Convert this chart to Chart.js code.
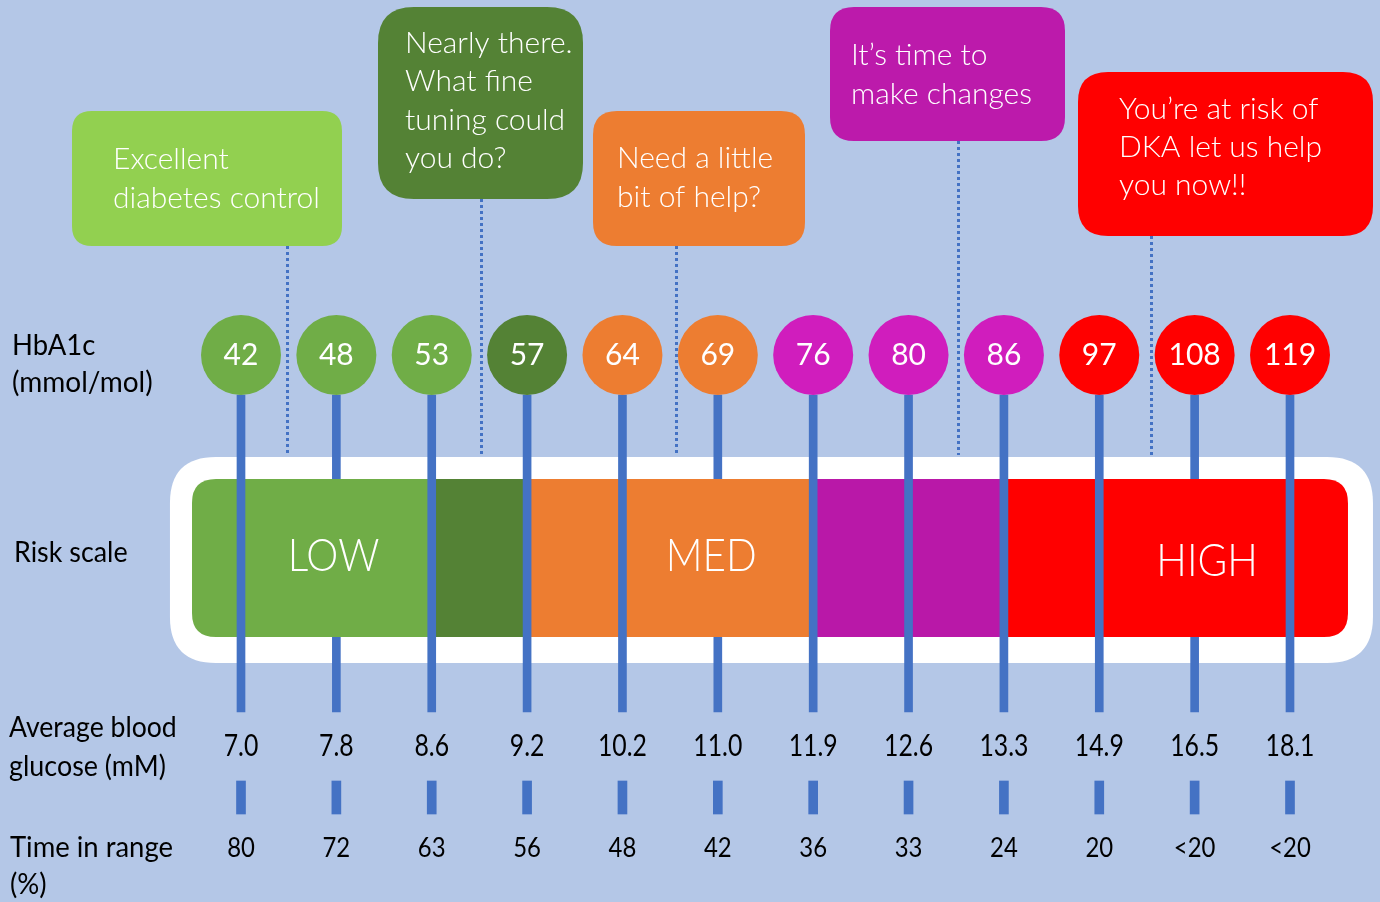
<!DOCTYPE html>
<html>
<head>
<meta charset="utf-8">
<script src="https://cdn.jsdelivr.net/npm/chart.js@4/dist/chart.umd.min.js"></script>
<style>
  html, body { margin: 0; padding: 0; background: #b4c7e7; }
  canvas { display: block; }
</style>
</head>
<body>
<canvas id="c" width="1380" height="902"></canvas>
<script>
// ---------- DATA ----------
const hba1c = ['42','48','53','57','64','69','76','80','86','97','108','119'];
const glucose = ['7.0','7.8','8.6','9.2','10.2','11.0','11.9','12.6','13.3','14.9','16.5','18.1'];
const timeInRange = ['80','72','63','56','48','42','36','33','24','20','<20','<20'];
const riskLevel = ['good','good','good','nearly','med','med','change','change','change','high','high','high'];
const stemsBehindBand = ['48','69','108'];
const riskLabels = ['LOW','MED','HIGH'];
const rowLabels = [['HbA1c','(mmol/mol)'], ['Risk scale'], ['Average blood','glucose (mM)'], ['Time in range','(%)']];
const calloutTexts = [
  ['Excellent','diabetes control'],
  ['Nearly there.','What fine','tuning could','you do?'],
  ['Need a little','bit of help?'],
  ['It\u2019s time to','make changes'],
  ['You\u2019re at risk of','DKA let us help','you now!!']
];
const calloutLevel = ['excellent','nearly','med','change','high'];

// ---------- STYLE / LAYOUT ----------
const BG = '#b4c7e7';
const BLUE = '#4472c4';
const circleColors = { good:'#70ad47', nearly:'#548235', med:'#ed7d31', change:'#d01dbd', high:'#ff0000' };
const calloutColors = { excellent:'#92d050', nearly:'#548235', med:'#ed7d31', change:'#bc1aab', high:'#ff0000' };
const FONT = 'Lato, "Open Sans", sans-serif';

const STEP = (1290 - 241) / 11;
const X_MIN = -241 / STEP;
const X_MAX = (1380 - 241) / STEP;

const L = {
  circleY: 355, circleR: 40,
  stemTop: 395, stemBottom: 712, stemW: 8,
  tickTop: 781, tickBottom: 814, tickW: 9,
  outer: { x0: -0.745, x1: 11.87, y0: 457, y1: 663, r: 46 },
  band:  { x0: -0.514, x1: 11.608, y0: 479, y1: 637, r: 24 },
  bandSegments: [ // [from, to, color]  (indices; 'L'/'R' = band edges)
    ['L', 2, '#70ad47'], [2, 3, '#548235'], [3, 6, '#ed7d31'], [6, 8, '#b918a8'], [8, 'R', '#ff0000']
  ],
  riskLabelPos: [[0.97, 571], [4.93, 571], [10.13, 576]],
  boxes: [
    { x0: 72,  y0: 111, x1: 342,  y1: 246, r: 20, tx: 113,  ty: 169, lh: 39, conn: 0.48 },
    { x0: 378, y0: 7,   x1: 583,  y1: 199, r: 36, tx: 405,  ty: 53,  lh: 38.3, conn: 2.52 },
    { x0: 593, y0: 111, x1: 805,  y1: 246, r: 24, tx: 617,  ty: 168, lh: 39, conn: 4.56 },
    { x0: 830, y0: 7,   x1: 1065, y1: 141, r: 24, tx: 851,  ty: 65,  lh: 39, conn: 7.52 },
    { x0: 1078,y0: 72,  x1: 1373, y1: 236, r: 30, tx: 1119, ty: 119, lh: 38, conn: 9.54 }
  ],
  connBottom: 455
};

// ---------- helpers ----------
function rr(ctx, x0, y0, x1, y1, r) {
  ctx.beginPath();
  ctx.moveTo(x0 + r, y0);
  ctx.lineTo(x1 - r, y0);
  ctx.quadraticCurveTo(x1, y0, x1, y0 + r);
  ctx.lineTo(x1, y1 - r);
  ctx.quadraticCurveTo(x1, y1, x1 - r, y1);
  ctx.lineTo(x0 + r, y1);
  ctx.quadraticCurveTo(x0, y1, x0, y1 - r);
  ctx.lineTo(x0, y0 + r);
  ctx.quadraticCurveTo(x0, y0, x0 + r, y0);
  ctx.closePath();
}
function txt(ctx, s, x, y, font, color, align, sx) {
  ctx.save();
  ctx.font = font;
  ctx.fillStyle = color;
  ctx.textAlign = align || 'left';
  ctx.textBaseline = 'alphabetic';
  ctx.translate(x, y);
  ctx.scale(sx || 1, 1);
  ctx.fillText(s, 0, 0);
  ctx.restore();
}

const idx = hba1c.map((_, i) => i);
const backIdx = idx.filter(i => stemsBehindBand.includes(hba1c[i]));
const frontIdx = idx.filter(i => !stemsBehindBand.includes(hba1c[i]));

const infographic = {
  id: 'infographic',
  beforeDatasetsDraw(chart) {
    const ctx = chart.ctx, xs = chart.scales.x;
    // callouts
    L.boxes.forEach((b, k) => {
      ctx.save();
      ctx.fillStyle = calloutColors[calloutLevel[k]];
      rr(ctx, b.x0, b.y0, b.x1, b.y1, b.r);
      ctx.fill();
      ctx.restore();
      calloutTexts[k].forEach((line, j) => {
        txt(ctx, line, b.tx, b.ty + j * b.lh, '300 30px ' + FONT, '#ffffff', 'left', 1.0);
      });
      // dotted connector
      const cx = Math.round(xs.getPixelForValue(b.conn)) + 0.5;
      ctx.save();
      ctx.strokeStyle = BLUE;
      ctx.lineWidth = 3;
      ctx.setLineDash([3, 3]);
      ctx.beginPath();
      ctx.moveTo(cx, b.y1);
      ctx.lineTo(cx, L.connBottom);
      ctx.stroke();
      ctx.restore();
    });
    // white rounded frame
    const o = L.outer;
    ctx.save();
    ctx.fillStyle = '#ffffff';
    rr(ctx, xs.getPixelForValue(o.x0), o.y0, xs.getPixelForValue(o.x1), o.y1, o.r);
    ctx.fill();
    ctx.restore();
  },
  afterDatasetDraw(chart, args) {
    if (args.index !== 0) return; // after the stems that sit behind the band
    const ctx = chart.ctx, xs = chart.scales.x;
    const b = L.band;
    const bx0 = xs.getPixelForValue(b.x0), bx1 = xs.getPixelForValue(b.x1);
    ctx.save();
    rr(ctx, bx0, b.y0, bx1, b.y1, b.r);
    ctx.clip();
    L.bandSegments.forEach(([f, t, col]) => {
      const x0 = f === 'L' ? bx0 : xs.getPixelForValue(f);
      const x1 = t === 'R' ? bx1 : xs.getPixelForValue(t);
      ctx.fillStyle = col;
      ctx.fillRect(x0, b.y0, x1 - x0 + 0.5, b.y1 - b.y0);
    });
    ctx.restore();
    riskLabels.forEach((s, k) => {
      const [p, y] = L.riskLabelPos[k];
      txt(ctx, s, xs.getPixelForValue(p), y, '300 46px ' + FONT, '#ffffff', 'center', 0.88);
    });
  },
  afterDatasetsDraw(chart) {
    const ctx = chart.ctx, xs = chart.scales.x;
    // numbers in circles
    const meta = chart.getDatasetMeta(3);
    meta.data.forEach((pt, i) => {
      txt(ctx, hba1c[i], pt.x, pt.y + 10, '30px ' + FONT, '#ffffff', 'center', 1);
    });
    // glucose & time in range
    idx.forEach(i => {
      const x = xs.getPixelForValue(i);
      txt(ctx, glucose[i], x, 756, '31px ' + FONT, '#000000', 'center', 0.8);
      txt(ctx, timeInRange[i], x, 857, '26px ' + FONT, '#000000', 'center', 0.92);
    });
    // row labels
    const f = '28px ' + FONT;
    txt(ctx, rowLabels[0][0], 12, 355, f, '#000', 'left', 0.98);
    txt(ctx, rowLabels[0][1], 12, 392, f, '#000', 'left', 1.0);
    txt(ctx, rowLabels[1][0], 14, 562, f, '#000', 'left', 0.96);
    txt(ctx, rowLabels[2][0], 9, 737, f, '#000', 'left', 0.95);
    txt(ctx, rowLabels[2][1], 9, 776, f, '#000', 'left', 0.96);
    txt(ctx, rowLabels[3][0], 10, 857, f, '#000', 'left', 0.98);
    txt(ctx, rowLabels[3][1], 10, 894, f, '#000', 'left', 0.98);
  }
};

new Chart(document.getElementById('c'), {
  type: 'bar',
  data: {
    datasets: [
      { // 0: stems behind the band
        type: 'bar', order: 10, grouped: false,
        data: backIdx.map(i => ({ x: i, y: [L.stemTop, L.stemBottom] })),
        backgroundColor: BLUE, barThickness: L.stemW, borderWidth: 0
      },
      { // 1: stems in front of the band
        type: 'bar', order: 5, grouped: false,
        data: frontIdx.map(i => ({ x: i, y: [L.stemTop, L.stemBottom] })),
        backgroundColor: BLUE, barThickness: L.stemW, borderWidth: 0
      },
      { // 2: glucose ticks
        type: 'bar', order: 4, grouped: false,
        data: idx.map(i => ({ x: i, y: [L.tickTop, L.tickBottom] })),
        backgroundColor: BLUE, barThickness: L.tickW, borderWidth: 0
      },
      { // 3: HbA1c circles
        type: 'scatter', order: 1, clip: false,
        data: idx.map(i => ({ x: i, y: L.circleY })),
        pointRadius: L.circleR, pointHoverRadius: L.circleR,
        pointBackgroundColor: riskLevel.map(r => circleColors[r]),
        pointBorderWidth: 0, borderWidth: 0, showLine: false
      }
    ]
  },
  options: {
    responsive: false,
    animation: false,
    devicePixelRatio: 1,
    events: [],
    layout: { padding: 0, autoPadding: false },
    plugins: { legend: { display: false }, tooltip: { enabled: false } },
    scales: {
      x: { type: 'linear', min: X_MIN, max: X_MAX, offset: false, display: false },
      y: { type: 'linear', min: 0, max: 902, reverse: true, offset: false, display: false }
    }
  },
  plugins: [infographic]
});
</script>
</body>
</html>
